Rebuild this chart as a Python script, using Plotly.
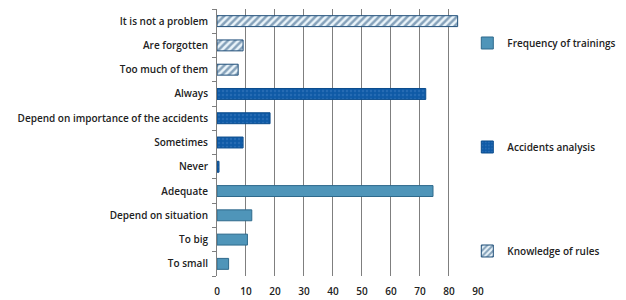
import plotly.graph_objects as go

categories = ["To small", "To big", "Depend on situation", "Adequate",
              "Never", "Sometimes", "Depend on importance of the accidents", "Always",
              "Too much of them", "Are forgotten", "It is not a problem"]

freq_cats = ["To small", "To big", "Depend on situation", "Adequate"]
freq_vals = [4, 10.5, 12, 74.5]

acc_cats = ["Never", "Sometimes", "Depend on importance of the accidents", "Always"]
acc_vals = [0.7, 9, 18.3, 72]

know_cats = ["Too much of them", "Are forgotten", "It is not a problem"]
know_vals = [7.3, 9, 83]

x_ticks = list(range(0, 91, 10))

fig = go.Figure()
fig.add_trace(go.Bar(
    y=freq_cats, x=freq_vals, orientation="h", name="Frequency of trainings",
    width=0.45, legendgroup="a",
    marker=dict(color="#4F95B9", line=dict(color="#2F6A8C", width=1)),
))
fig.add_trace(go.Bar(
    y=acc_cats, x=acc_vals, orientation="h", name="Accidents analysis",
    width=0.45, legendgroup="b",
    marker=dict(color="#0F5AA6", line=dict(color="#0B4C8C", width=1),
                pattern=dict(shape=".", fgcolor="#3C7CC0", bgcolor="#0F5AA6",
                             size=4, solidity=0.3)),
))
fig.add_trace(go.Bar(
    y=know_cats, x=know_vals, orientation="h", name="Knowledge of rules",
    width=0.45, legendgroup="c",
    marker=dict(color="#1F4E79", line=dict(color="#1F4E79", width=1),
                pattern=dict(shape="/", fgcolor="#1F4E79", bgcolor="#EAF4FA",
                             size=5, solidity=0.5)),
))

fig.update_layout(
    width=626, height=300,
    margin=dict(l=217, r=0, t=9, b=24),
    paper_bgcolor="white", plot_bgcolor="white",
    barmode="overlay",
    font=dict(family="Open Sans", size=10, color="#222222", weight=600),
    showlegend=True,
    legend=dict(x=0.612, y=0.927, xanchor="left", yanchor="top",
                bgcolor="rgba(0,0,0,0)",
                tracegroupgap=85, font=dict(size=10, color="#222222", weight=600),
                itemwidth=30),
    xaxis=dict(domain=[0, 0.638], range=[0, 90], tickvals=x_ticks, showgrid=True,
               gridcolor="#7F7F7F", gridwidth=1, zeroline=False,
               showline=False, ticks="", automargin=False, ticklabelstandoff=8,
               tickfont=dict(size=10, color="#222222", weight=600)),
    yaxis=dict(categoryorder="array", categoryarray=categories,
               showline=True, linecolor="#7F7F7F", ticks="outside",
               tickson="boundaries", ticklen=4, tickcolor="#7F7F7F",
               showgrid=False, automargin=False, ticklabelstandoff=6,
               tickfont=dict(size=10, color="#222222", weight=600)),
)
fig.write_html("out.html", config={"displayModeBar": False},
               post_script="document.body.style.margin='0';")
